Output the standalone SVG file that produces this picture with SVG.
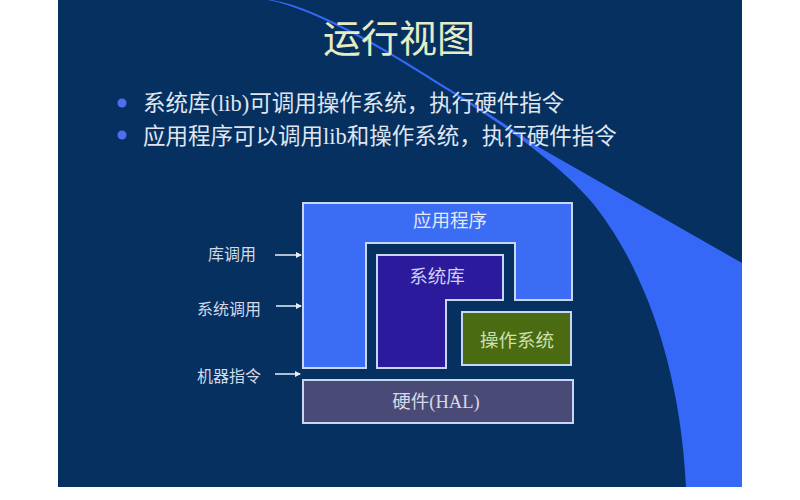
<svg xmlns="http://www.w3.org/2000/svg" width="800" height="500" viewBox="0 0 800 500">
  <style>
    .t { font-family: "Liberation Serif", "Noto Sans CJK SC", serif; }
    .box { stroke: #c9d6f2; stroke-width: 2; }
    .side { font-size: 16px; fill: #d2d9e8; text-anchor: middle; }
    .lbl { font-size: 18.5px; text-anchor: middle; }
    .conn { stroke: #e8eef8; stroke-width: 1.5; fill: none; marker-end: url(#ah); }
  </style>
  <defs>
    <marker id="ah" markerWidth="6" markerHeight="6" refX="5" refY="3" orient="auto" markerUnits="userSpaceOnUse">
      <path d="M0,0 L6,3 L0,6 Z" fill="#e8eef8"/>
    </marker>
  </defs>
  <rect x="0" y="0" width="800" height="500" fill="#ffffff"/>
  <g id="slide">
    <rect x="58" y="0" width="684" height="487" fill="#06305f"/>
    <path d="M268,0 C320,10 400,60 447,90 C500,123 555,160 590,200 C640,260 680,360 686,487 L742,487 L742,263 L542,149 C520,134 490,114 448,88 C400,58 322,8 272,0 Z" fill="#3568f6"/>
  </g>
  <g id="title">
    <text class="t" x="399" y="52" font-size="38" fill="#e6ecc4" text-anchor="middle">运行视图</text>
  </g>
  <g id="bullets">
    <circle cx="122" cy="103" r="4.5" fill="#4d6ef2"/>
    <circle cx="122" cy="135" r="4.5" fill="#4d6ef2"/>
    <text class="t" x="143" y="111" font-size="22.5" fill="#dfe5f1">系统库(lib)可调用操作系统，执行硬件指令</text>
    <text class="t" x="143" y="144" font-size="22.5" fill="#dfe5f1">应用程序可以调用lib和操作系统，执行硬件指令</text>
  </g>
  <g id="app">
    <polygon class="box" points="303,203 572,203 572,300 515,300 515,243 366,243 366,368 303,368" fill="#3a6cf4"/>
    <text class="t lbl" x="450" y="227" fill="#e2e8f6">应用程序</text>
  </g>
  <g id="syslib">
    <polygon class="box" points="377,255 503,255 503,300 446,300 446,368 377,368" fill="#2b1b9c"/>
    <text class="t lbl" x="437" y="283" fill="#cfd0f2">系统库</text>
  </g>
  <g id="os">
    <rect class="box" x="462" y="312" width="109" height="53" fill="#4a6b12"/>
    <text class="t lbl" x="517" y="347" fill="#cfe0b0">操作系统</text>
  </g>
  <g id="hal">
    <rect class="box" x="303" y="380" width="270" height="43" fill="#4a4a76"/>
    <text class="t lbl" x="436" y="408" fill="#d8d8e8">硬件(HAL)</text>
  </g>
  <g id="side-labels">
    <text class="t side" x="232" y="260">库调用</text>
    <text class="t side" x="229" y="315">系统调用</text>
    <text class="t side" x="229" y="382">机器指令</text>
  </g>
  <g id="connectors">
    <line class="conn" x1="275" y1="255" x2="301" y2="255"/>
    <line class="conn" x1="276" y1="306" x2="301" y2="306"/>
    <line class="conn" x1="275" y1="374" x2="300" y2="374"/>
  </g>
</svg>
